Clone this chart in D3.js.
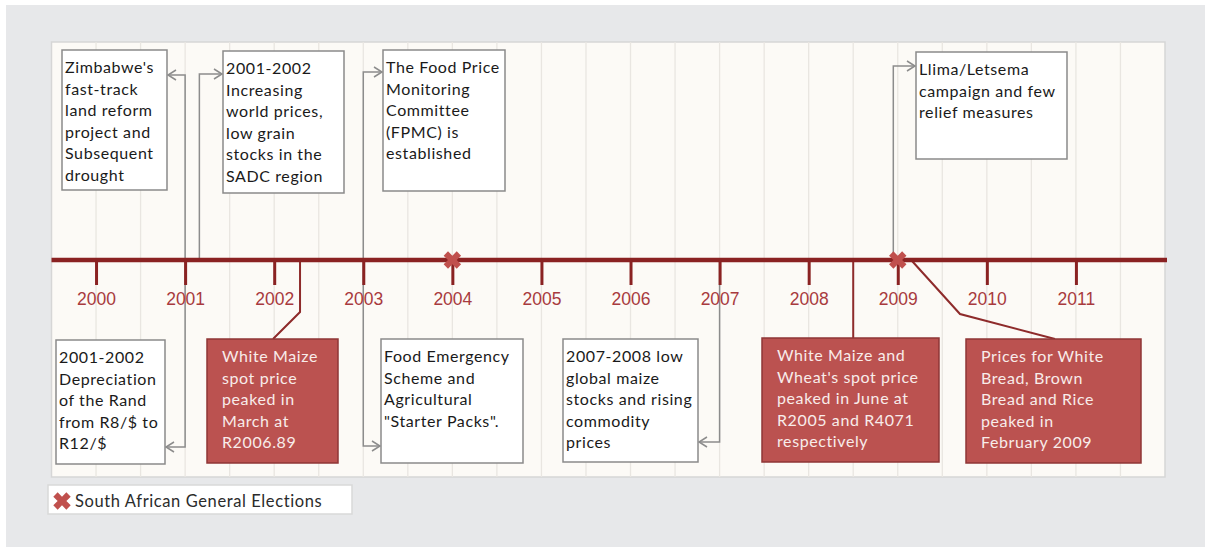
<!DOCTYPE html>
<html>
<head>
<meta charset="utf-8">
<script src="https://cdn.jsdelivr.net/npm/d3@7"></script>
<style>
  body { margin: 0; background: #fff; }
  svg { display: block; }
  .box-text { font-family: Lato, "Open Sans", sans-serif; font-size: 16px; letter-spacing: 0.6px; }
  .tick-label { font-family: "Liberation Sans", Arial, sans-serif; font-size: 17.5px; fill: #a83a3e; }
</style>
</head>
<body>
<svg id="chart" width="1205" height="547"></svg>
<script>
// timeline data
var years = [2000, 2001, 2002, 2003, 2004, 2005, 2006, 2007, 2008, 2009, 2010, 2011];
var elections = [2004, 2009];
var legendLabel = "South African General Elections";

// each event: where it hooks on the timeline (fractional year), above/below, price peak or not
var eventDates = [2001.0, 2001.16, 2003.0, 2008.95, 2001.0, 2002.29, 2003.0, 2007.0, 2008.5, 2009.15];
var eventSides = ["top", "top", "top", "top", "bottom", "bottom", "bottom", "bottom", "bottom", "bottom"];
var eventPeak = [false, false, false, false, false, true, false, false, true, true];
var eventTexts = [
    ["Zimbabwe's", "fast-track", "land reform", "project and", "Subsequent", "drought"],
    ["2001-2002", "Increasing", "world prices,", "low grain", "stocks in the", "SADC region"],
    ["The Food Price", "Monitoring", "Committee", "(FPMC) is", "established"],
    ["Llima/Letsema", "campaign and few", "relief measures"],
    ["2001-2002", "Depreciation", "of the Rand", "from R8/$ to", "R12/$"],
    ["White Maize", "spot price", "peaked  in", "March at", "R2006.89"],
    ["Food Emergency", "Scheme  and", "Agricultural", "\"Starter Packs\"."],
    ["2007-2008 low", "global maize", "stocks and rising", "commodity", "prices"],
    ["White Maize and", "Wheat's spot price", "peaked in June at", "R2005 and R4071", "respectively"],
    ["Prices for White", "Bread, Brown", "Bread and Rice", "peaked in", "February 2009"]
];

// layout (pixels)
var W = 1205, H = 547;
var plot = {x: 51.5, y: 42, w: 1113.5, h: 435};
var axisY = 260;
var boxes = [
    {x: 62, y: 50, w: 105, h: 140, hook: 75},
    {x: 223, y: 51, w: 121, h: 142, hook: 74},
    {x: 383, y: 50, w: 122, h: 141, hook: 72},
    {x: 916, y: 52, w: 151, h: 107, hook: 66},
    {x: 56, y: 340, w: 109, h: 124, hook: 447},
    {x: 207, y: 339, w: 131, h: 124, bend: [[0, 312], [273, 339]]},
    {x: 381, y: 339, w: 142, h: 124, hook: 446},
    {x: 563, y: 339, w: 135, h: 123, hook: 442},
    {x: 762, y: 338, w: 177, h: 124, bend: [[0, 338]]},
    {x: 966, y: 339, w: 175, h: 124, bend: [[960, 314], [1055, 339]]}
];

var svg = d3.select("#chart");

var x = d3.scaleLinear()
    .domain([1999.5, 2012])
    .range([plot.x, plot.x + plot.w]);

// backgrounds
svg.append("rect").attr("x", 6).attr("y", 5).attr("width", W - 6).attr("height", H - 5)
    .attr("fill", "#e7e8ea");
svg.append("rect").attr("x", plot.x).attr("y", plot.y).attr("width", plot.w).attr("height", plot.h)
    .attr("fill", "#fcfaf6").attr("stroke", "#d6d6d6").attr("stroke-width", 1.5);

// half-year gridlines
var grid = d3.range(2000, 2012, 0.5);
svg.append("g").selectAll("line")
    .data(grid)
    .enter().append("line")
    .attr("x1", function(d) { return x(d); })
    .attr("x2", function(d) { return x(d); })
    .attr("y1", plot.y)
    .attr("y2", plot.y + plot.h)
    .attr("stroke", "#e9e6e1")
    .attr("stroke-width", 1.3);

// connectors
var conn = svg.append("g");
eventDates.forEach(function(d, i) {
    var b = boxes[i], ax = x(d), pts;
    if (eventPeak[i]) {
        pts = [[ax, axisY]];
        b.bend.forEach(function(p) { pts.push([p[0] || ax, p[1]]); });
        conn.append("path")
            .attr("d", d3.line()(pts))
            .attr("fill", "none")
            .attr("stroke", "#8e2b2b")
            .attr("stroke-width", 2);
        return;
    }
    var edge = (b.x + b.w / 2 < ax) ? b.x + b.w + 1 : b.x - 1;
    var dir = edge < ax ? 1 : -1;
    pts = [[ax, axisY], [ax, b.hook], [edge, b.hook]];
    conn.append("path")
        .attr("d", d3.line()(pts))
        .attr("fill", "none")
        .attr("stroke", "#8c8c8c")
        .attr("stroke-width", 1.5);
    conn.append("path")
        .attr("d", d3.line()([[edge + dir * 8, b.hook - 5], [edge, b.hook], [edge + dir * 8, b.hook + 5]]))
        .attr("fill", "none")
        .attr("stroke", "#8c8c8c")
        .attr("stroke-width", 1.5);
});

// axis
var xAxis = d3.axisBottom(x)
    .tickValues(years)
    .tickFormat(d3.format("d"))
    .tickSize(25)
    .tickPadding(8);

var axisG = svg.append("g")
    .attr("transform", "translate(0," + axisY + ")")
    .call(xAxis);
axisG.select(".domain")
    .attr("d", "M" + plot.x + ",0H" + (plot.x + plot.w + 2))
    .attr("stroke", "#8a2222")
    .attr("stroke-width", 4.5);
axisG.selectAll(".tick line")
    .attr("stroke", "#8a2222")
    .attr("stroke-width", 3);
axisG.selectAll(".tick text")
    .attr("class", "tick-label")
    .attr("font-family", null)
    .attr("font-size", null)
    .attr("fill", null)
    .attr("y", 45)
    .attr("dy", 0);

// event boxes
var boxG = svg.append("g").selectAll("g")
    .data(eventTexts)
    .enter().append("g")
    .attr("transform", function(d, i) { return "translate(" + boxes[i].x + "," + boxes[i].y + ")"; });

boxG.append("rect")
    .attr("width", function(d, i) { return boxes[i].w; })
    .attr("height", function(d, i) { return boxes[i].h; })
    .attr("fill", function(d, i) { return eventPeak[i] ? "#bb5250" : "#ffffff"; })
    .attr("stroke", function(d, i) { return eventPeak[i] ? "#8e3636" : "#8a8a8a"; })
    .attr("stroke-width", 1.5);

boxG.append("text")
    .attr("class", "box-text")
    .attr("fill", function(d, i) { return eventPeak[i] ? "#f8ecea" : "#1a1a1a"; })
    .each(function(d, i) {
        var t = d3.select(this);
        var pad = eventPeak[i] ? 15 : 3;
        d.forEach(function(line, j) {
            t.append("tspan")
                .attr("x", pad)
                .attr("y", 23 + j * 21.5)
                .text(line);
        });
    });

// election markers
var cross = d3.symbol().type(d3.symbolCross).size(190);
svg.append("g").selectAll("path")
    .data(elections)
    .enter().append("path")
    .attr("d", cross)
    .attr("transform", function(d) { return "translate(" + x(d) + "," + axisY + ") rotate(45)"; })
    .attr("fill", "#c0504d");

// legend
var leg = svg.append("g").attr("transform", "translate(48,485)");
leg.append("rect").attr("width", 304).attr("height", 29)
    .attr("fill", "#ffffff").attr("stroke", "#d9d9d9").attr("stroke-width", 1.5);
leg.append("path").attr("d", cross)
    .attr("transform", "translate(14,16) rotate(45)")
    .attr("fill", "#c0504d");
leg.append("text")
    .attr("class", "box-text")
    .attr("x", 27).attr("y", 21.5)
    .style("font-size", "16.5px")
    .attr("fill", "#2b2b2b")
    .text(legendLabel);
</script>
</body>
</html>
